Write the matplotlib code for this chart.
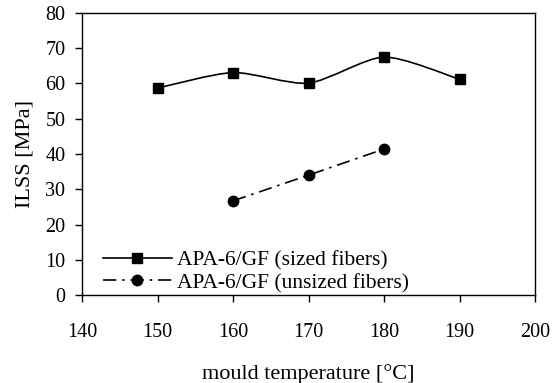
import matplotlib

matplotlib.use('Agg')

import matplotlib.pyplot as plt
from matplotlib.path import Path
from matplotlib.patches import PathPatch
from matplotlib.lines import Line2D

plt.rcParams.update({
    'font.family': 'Liberation Serif',
    'font.size': 14,
    'xtick.labelsize': 14.5,
    'ytick.labelsize': 14.5,
    'axes.linewidth': 1.0,
})

temp_sized = [150, 160, 170, 180, 190]
ilss_sized = [58.7, 63.1, 60.1, 67.5, 61.2]

temp_unsized = [160, 170, 180]
ilss_unsized = [26.7, 34.0, 41.4]


def smooth_path(xs, ys):
    # Excel-style smoothed line: cubic Bezier segments through the points
    pts = list(zip(xs, ys))
    verts = [pts[0]]
    codes = [Path.MOVETO]
    n = len(pts)
    for i in range(n - 1):
        p0 = pts[i - 1] if i > 0 else pts[i]
        p1 = pts[i]
        p2 = pts[i + 1]
        p3 = pts[i + 2] if i + 2 < n else pts[i + 1]
        c1 = (p1[0] + (p2[0] - p0[0]) / 8, p1[1] + (p2[1] - p0[1]) / 8)
        c2 = (p2[0] - (p3[0] - p1[0]) / 8, p2[1] - (p3[1] - p1[1]) / 8)
        verts += [c1, c2, p2]
        codes += [Path.CURVE4] * 3
    return Path(verts, codes)


dashdot = (0, (8, 3.5, 1.5, 3.5))

fig = plt.figure(figsize=(5.53, 3.83), dpi=100)
ax = fig.add_axes([82 / 553, 1 - 295 / 383, (535 - 82) / 553, (295 - 13) / 383])

ax.add_patch(PathPatch(smooth_path(temp_sized, ilss_sized), fill=False,
                       edgecolor='black', linewidth=1.2, zorder=2))
ax.plot(temp_sized, ilss_sized, linestyle='none', marker='s', markersize=7.5,
        color='black', zorder=3)
ax.plot(temp_unsized, ilss_unsized, linestyle=dashdot, marker='o',
        markersize=7.5, color='black', linewidth=1.2, zorder=3)

handles = [
    Line2D([], [], color='black', linewidth=1.2, marker='s', markersize=7.5),
    Line2D([], [], color='black', linewidth=1.2, linestyle=dashdot,
           marker='o', markersize=7.5),
]
ax.legend(handles, ['APA-6/GF (sized fibers)', 'APA-6/GF (unsized fibers)'],
          loc='lower left', bbox_to_anchor=(0.0457, 0.007), frameon=False,
          handlelength=3.2, handletextpad=0.25, labelspacing=0.1,
          borderaxespad=0, borderpad=0, fontsize=15.5)

ax.set_xlim(140, 200)
ax.set_ylim(0, 80)
ax.set_xticks(range(140, 201, 10))
ax.set_yticks(range(0, 81, 10))
ax.tick_params(direction='out', length=5, width=1.0)
ax.tick_params(axis='x', pad=15)
ax.tick_params(axis='y', pad=7)

ax.set_xlabel('mould temperature [°C]', fontsize=16, labelpad=16)
ax.set_ylabel('ILSS [MPa]', fontsize=16, labelpad=8)

plt.savefig('out.png', dpi=100)
